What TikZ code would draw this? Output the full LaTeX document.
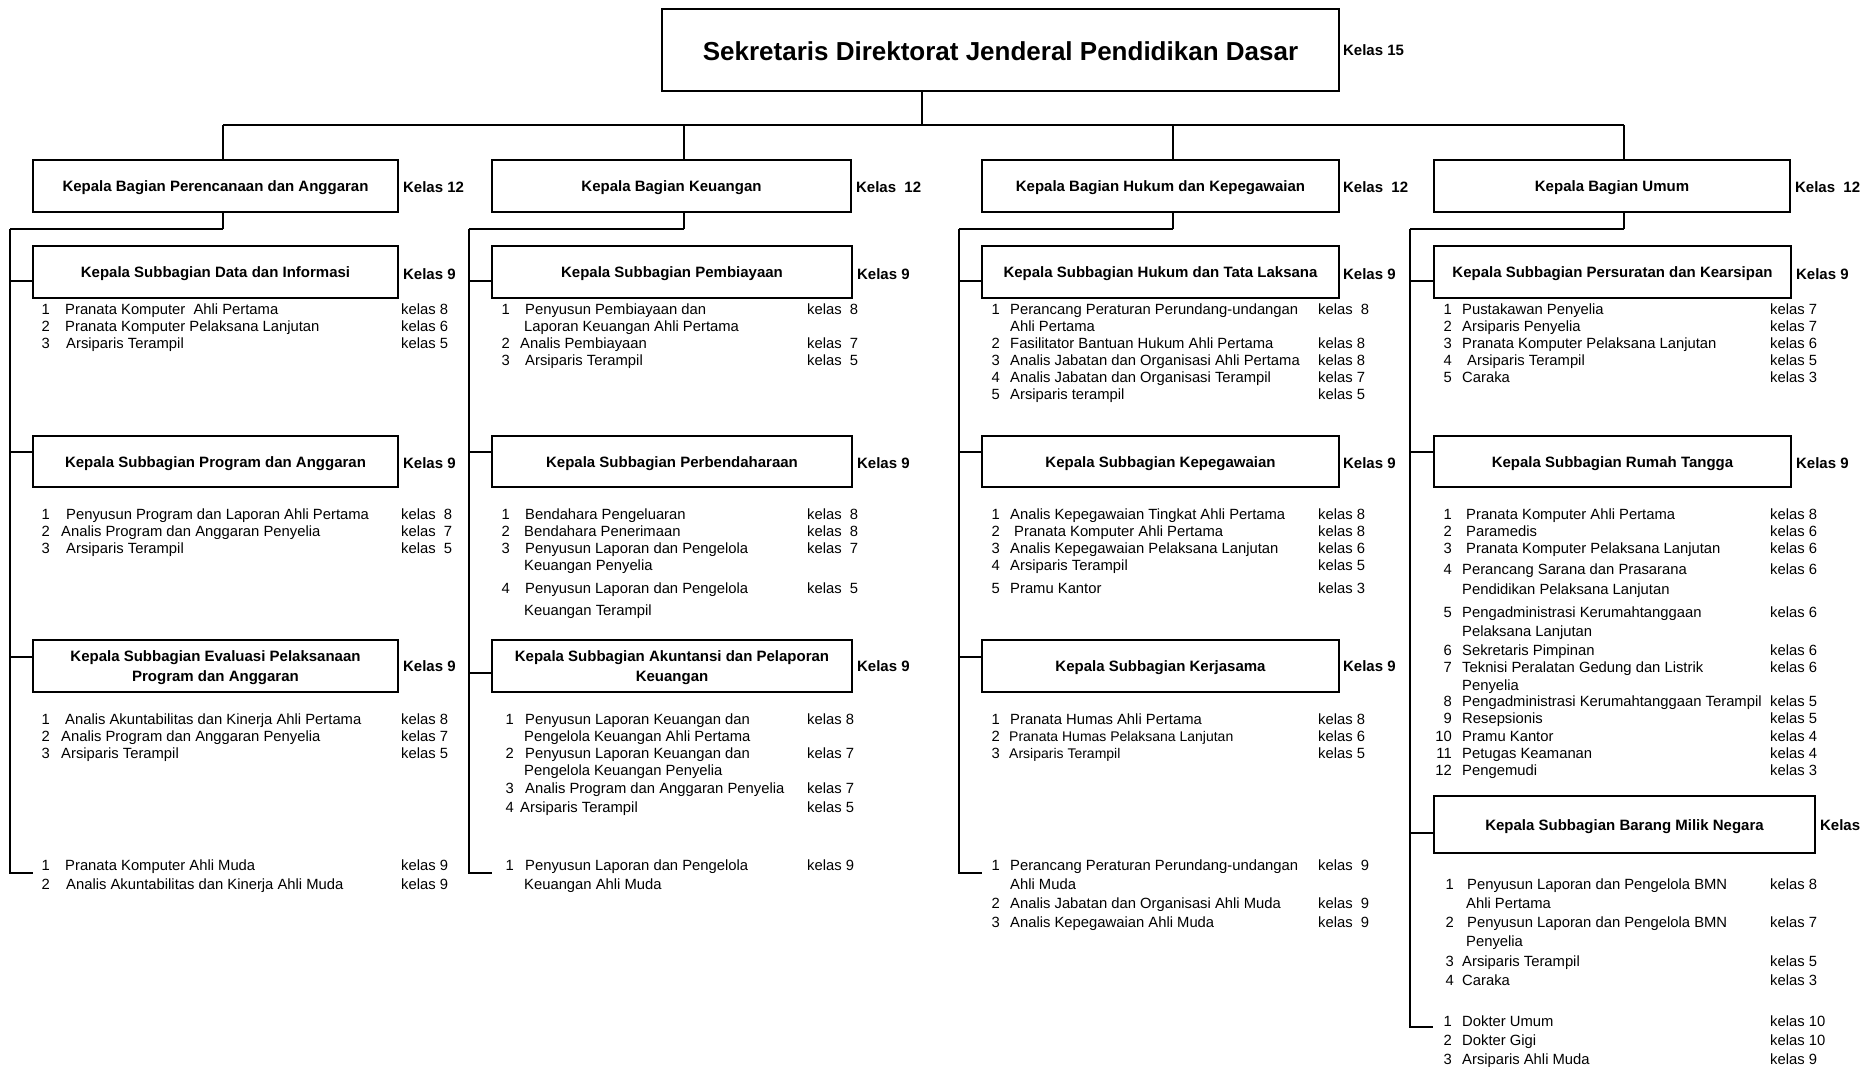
\documentclass[tikz,border=0pt]{standalone}
\usepackage{fontspec}
\setmainfont{Liberation Sans}
\newcounter{rc}
\tikzset{
  box/.style={draw, line width=1.8pt, inner sep=0pt},
  boxt/.style={inner sep=0pt, align=center, font=\fontsize{15}{20}\selectfont\bfseries},
  itm/.style={inner sep=0pt, font=\fontsize{14.8}{17}\selectfont},
  klas/.style={inner sep=0pt, anchor=west, font=\fontsize{15}{18}\selectfont\bfseries},
  conn/.style={line width=1.3pt},
  bus/.style={line width=2.4pt},
}
% box by corners, with its title as a separate node (#1t)
\newcommand\bx[6]{\node[box, minimum width={#4-#2}, minimum height={#5-#3}] (#1) at ({(#2+#4)/2},{(#3+#5)/2}) {};%
  \node[boxt] (#1t) at ([yshift=-2pt]#1.center) {#6};}
% item row: xnum(east) xtext xkelas ybase num text kelas
\newcommand\rw[7]{\stepcounter{rc}%
  \node[itm,anchor=base east] (n\therc) at (#1,#4) {#5};%
  \node[itm,anchor=base west] (t\therc) at (#2,#4) {#6};%
  \node[itm,anchor=base west] (k\therc) at (#3,#4) {#7};}
% continuation line
\newcommand\ct[3]{\stepcounter{rc}\node[itm,anchor=base west] (c\therc) at (#1,#2) {#3};}
\begin{document}
\begin{tikzpicture}[x=1pt,y=-1pt]
\useasboundingbox (0,0) rectangle (1863,1067);

% ---------- top ----------
\node[box, minimum width=677, minimum height=82] (top) at (1000.5,50) {};
\node[boxt, font=\fontsize{26}{30}\selectfont\bfseries] (topt) at ([yshift=-1pt]top.center) {Sekretaris Direktorat Jenderal Pendidikan Dasar};
\node[klas] (ktop) at ([xshift=3pt]top.east) {Kelas 15};

% ---------- level 2 ----------
\bx{b1}{33}{160}{398}{212}{Kepala Bagian Perencanaan dan Anggaran}
\bx{b2}{492}{160}{851}{212}{Kepala Bagian Keuangan}
\bx{b3}{982}{160}{1339}{212}{Kepala Bagian Hukum dan Kepegawaian}
\bx{b4}{1434}{160}{1790}{212}{Kepala Bagian Umum}
\node[klas] (kb1) at ([xshift=4pt,yshift=-1pt]b1.east) {Kelas 12};
\node[klas] (kb2) at ([xshift=4pt,yshift=-1pt]b2.east) {Kelas~~12};
\node[klas] (kb3) at ([xshift=3pt,yshift=-1pt]b3.east) {Kelas~~12};
\node[klas] (kb4) at ([xshift=4pt,yshift=-1pt]b4.east) {Kelas~~12};

% ---------- subboxes ----------
\bx{s11}{33}{246}{398}{298}{Kepala Subbagian Data dan Informasi}
\bx{s12}{33}{436}{398}{487}{Kepala Subbagian Program dan Anggaran}
\bx{s13}{33}{640}{398}{692}{Kepala Subbagian Evaluasi Pelaksanaan\\Program dan Anggaran}
\bx{s21}{492}{246}{852}{298}{Kepala Subbagian Pembiayaan}
\bx{s22}{492}{436}{852}{487}{Kepala Subbagian Perbendaharaan}
\bx{s23}{492}{640}{852}{692}{Kepala Subbagian Akuntansi dan Pelaporan\\Keuangan}
\bx{s31}{982}{246}{1339}{298}{Kepala Subbagian Hukum dan Tata Laksana}
\bx{s32}{982}{436}{1339}{487}{Kepala Subbagian Kepegawaian}
\bx{s33}{982}{640}{1339}{692}{Kepala Subbagian Kerjasama}
\bx{s41}{1434}{246}{1791}{298}{Kepala Subbagian Persuratan dan Kearsipan}
\bx{s42}{1434}{436}{1791}{487}{Kepala Subbagian Rumah Tangga}
\bx{s43}{1434}{796}{1815}{853}{Kepala Subbagian Barang Milik Negara}
\foreach \c/\d in {1/4,2/4,3/3,4/4}{
  \foreach \r in {1,2}{
    \node[klas] (ks\c\r) at ([xshift=\d pt, yshift=-2pt]s\c\r.east) {Kelas 9};
  }}
\node[klas] (ks13) at ([xshift=4pt]s13.east) {Kelas 9};
\node[klas] (ks23) at ([xshift=4pt]s23.east) {Kelas 9};
\node[klas] (ks33) at ([xshift=3pt]s33.east) {Kelas 9};
\node[klas] (ks43) at ([xshift=4pt, yshift=-1pt]s43.east) {Kelas};

% ---------- connectors ----------
\coordinate (j0) at (922,125);
\coordinate (d1) at (223,125);
\coordinate (d2) at (684,125);
\coordinate (d3) at (1173,125);
\coordinate (d4) at (1624,125);
\coordinate (e1) at (10,229);
\coordinate (e2) at (469,229);
\coordinate (e3) at (959,229);
\coordinate (e4) at (1410,229);
\coordinate (f1) at (33,873);
\coordinate (f2) at (492,873);
\coordinate (f3) at (982,873);
\coordinate (f4) at (1433,1027);

\draw[conn] (top.south -| j0) -- (j0);
\draw[bus] (d1) -- (d4);
\foreach \i in {1,2,3,4}{
  \draw[conn] (d\i) -- (d\i |- b\i.north);
  \draw[conn] (b\i.south -| d\i) -- (d\i |- e\i);
  \draw[bus] (d\i |- e\i) -- (e\i);
  \draw[conn] (e\i) |- (f\i);
}
% branch heights
\coordinate (g11) at (0,281); \coordinate (g12) at (0,452); \coordinate (g13) at (0,657);
\coordinate (g21) at (0,281); \coordinate (g22) at (0,452); \coordinate (g23) at (0,673);
\coordinate (g31) at (0,281); \coordinate (g32) at (0,452); \coordinate (g33) at (0,657);
\coordinate (g41) at (0,281); \coordinate (g42) at (0,452); \coordinate (g43) at (0,833);
\foreach \c in {1,2,3,4}{
  \foreach \r in {1,2,3}{
    \draw[conn] (e\c |- g\c\r) -- (s\c\r.west |- g\c\r);
  }}

% ---------- column 1 ----------
\rw{50}{65}{401}{314}{1}{Pranata Komputer~ Ahli Pertama}{kelas 8}
\rw{50}{65}{401}{331}{2}{Pranata Komputer Pelaksana Lanjutan}{kelas 6}
\rw{50}{66}{401}{348}{3}{Arsiparis Terampil}{kelas 5}
\rw{50}{66}{401}{519}{1}{Penyusun Program dan Laporan Ahli Pertama}{kelas~~8}
\rw{50}{61}{401}{536}{2}{Analis Program dan Anggaran Penyelia}{kelas~~7}
\rw{50}{66}{401}{553}{3}{Arsiparis Terampil}{kelas~~5}
\rw{50}{65}{401}{724}{1}{Analis Akuntabilitas dan Kinerja Ahli Pertama}{kelas 8}
\rw{50}{61}{401}{741}{2}{Analis Program dan Anggaran Penyelia}{kelas 7}
\rw{50}{61}{401}{758}{3}{Arsiparis Terampil}{kelas 5}
\rw{50}{65}{401}{870}{1}{Pranata Komputer Ahli Muda}{kelas 9}
\rw{50}{66}{401}{889}{2}{Analis Akuntabilitas dan Kinerja Ahli Muda}{kelas 9}

% ---------- column 2 ----------
\rw{510}{525}{807}{314}{1}{Penyusun Pembiayaan dan}{kelas~~8}
\ct{524}{331}{Laporan Keuangan Ahli Pertama}
\rw{510}{520}{807}{348}{2}{Analis Pembiayaan}{kelas~~7}
\rw{510}{525}{807}{365}{3}{Arsiparis Terampil}{kelas~~5}
\rw{510}{525}{807}{519}{1}{Bendahara Pengeluaran}{kelas~~8}
\rw{510}{524}{807}{536}{2}{Bendahara Penerimaan}{kelas~~8}
\rw{510}{525}{807}{553}{3}{Penyusun Laporan dan Pengelola}{kelas~~7}
\ct{524}{570}{Keuangan Penyelia}
\rw{510}{525}{807}{593}{4}{Penyusun Laporan dan Pengelola}{kelas~~5}
\ct{524}{615}{Keuangan Terampil}
\rw{514}{525}{807}{724}{1}{Penyusun Laporan Keuangan dan}{kelas 8}
\ct{524}{741}{Pengelola Keuangan Ahli Pertama}
\rw{514}{525}{807}{758}{2}{Penyusun Laporan Keuangan dan}{kelas 7}
\ct{524}{775}{Pengelola Keuangan Penyelia}
\rw{514}{525}{807}{793}{3}{Analis Program dan Anggaran Penyelia}{kelas 7}
\rw{514}{520}{807}{812}{4}{Arsiparis Terampil}{kelas 5}
\rw{514}{525}{807}{870}{1}{Penyusun Laporan dan Pengelola}{kelas 9}
\ct{524}{889}{Keuangan Ahli Muda}

% ---------- column 3 ----------
\rw{1000}{1010}{1318}{314}{1}{Perancang Peraturan Perundang-undangan}{kelas~~8}
\ct{1010}{331}{Ahli Pertama}
\rw{1000}{1010}{1318}{348}{2}{Fasilitator Bantuan Hukum Ahli Pertama}{kelas 8}
\rw{1000}{1010}{1318}{365}{3}{Analis Jabatan dan Organisasi Ahli Pertama}{kelas 8}
\rw{1000}{1010}{1318}{382}{4}{Analis Jabatan dan Organisasi Terampil}{kelas 7}
\rw{1000}{1010}{1318}{399}{5}{Arsiparis terampil}{kelas 5}
\rw{1000}{1010}{1318}{519}{1}{Analis Kepegawaian Tingkat Ahli Pertama}{kelas 8}
\rw{1000}{1014}{1318}{536}{2}{Pranata Komputer Ahli Pertama}{kelas 8}
\rw{1000}{1010}{1318}{553}{3}{Analis Kepegawaian Pelaksana Lanjutan}{kelas 6}
\rw{1000}{1010}{1318}{570}{4}{Arsiparis Terampil}{kelas 5}
\rw{1000}{1010}{1318}{593}{5}{Pramu Kantor}{kelas 3}
\rw{1000}{1010}{1318}{724}{1}{Pranata Humas Ahli Pertama}{kelas 8}
\rw{1000}{1009}{1318}{741}{2}{\fontsize{14}{17}\selectfont Pranata Humas Pelaksana Lanjutan}{kelas 6}
\rw{1000}{1009}{1318}{758}{3}{\fontsize{14}{17}\selectfont Arsiparis Terampil}{kelas 5}
\rw{1000}{1010}{1318}{870}{1}{Perancang Peraturan Perundang-undangan}{kelas~~9}
\ct{1010}{889}{Ahli Muda}
\rw{1000}{1010}{1318}{908}{2}{Analis Jabatan dan Organisasi Ahli Muda}{kelas~~9}
\rw{1000}{1010}{1318}{927}{3}{Analis Kepegawaian Ahli Muda}{kelas~~9}

% ---------- column 4 ----------
\rw{1452}{1462}{1770}{314}{1}{Pustakawan Penyelia}{kelas 7}
\rw{1452}{1462}{1770}{331}{2}{Arsiparis Penyelia}{kelas 7}
\rw{1452}{1462}{1770}{348}{3}{Pranata Komputer Pelaksana Lanjutan}{kelas 6}
\rw{1452}{1467}{1770}{365}{4}{Arsiparis Terampil}{kelas 5}
\rw{1452}{1462}{1770}{382}{5}{Caraka}{kelas 3}
\rw{1452}{1466}{1770}{519}{1}{Pranata Komputer Ahli Pertama}{kelas 8}
\rw{1452}{1466}{1770}{536}{2}{Paramedis}{kelas 6}
\rw{1452}{1466}{1770}{553}{3}{Pranata Komputer Pelaksana Lanjutan}{kelas 6}
\rw{1452}{1462}{1770}{574}{4}{Perancang Sarana dan Prasarana}{kelas 6}
\ct{1462}{594}{Pendidikan Pelaksana Lanjutan}
\rw{1452}{1462}{1770}{617}{5}{Pengadministrasi Kerumahtanggaan}{kelas 6}
\ct{1462}{636}{Pelaksana Lanjutan}
\rw{1452}{1462}{1770}{655}{6}{Sekretaris Pimpinan}{kelas 6}
\rw{1452}{1462}{1770}{672}{7}{Teknisi Peralatan Gedung dan Listrik}{kelas 6}
\ct{1462}{690}{Penyelia}
\rw{1452}{1462}{1770}{706}{8}{Pengadministrasi Kerumahtanggaan Terampil}{kelas 5}
\rw{1452}{1462}{1770}{723}{9}{Resepsionis}{kelas 5}
\rw{1452}{1462}{1770}{741}{10}{Pramu Kantor}{kelas 4}
\rw{1452}{1462}{1770}{758}{11}{Petugas Keamanan}{kelas 4}
\rw{1452}{1462}{1770}{775}{12}{Pengemudi}{kelas 3}
\rw{1454}{1467}{1770}{889}{1}{Penyusun Laporan dan Pengelola BMN}{kelas 8}
\ct{1466}{908}{Ahli Pertama}
\rw{1454}{1467}{1770}{927}{2}{Penyusun Laporan dan Pengelola BMN}{kelas 7}
\ct{1466}{946}{Penyelia}
\rw{1454}{1462}{1770}{966}{3}{Arsiparis Terampil}{kelas 5}
\rw{1454}{1462}{1770}{985}{4}{Caraka}{kelas 3}
\rw{1452}{1462}{1770}{1026}{1}{Dokter Umum}{kelas 10}
\rw{1452}{1462}{1770}{1045}{2}{Dokter Gigi}{kelas 10}
\rw{1452}{1462}{1770}{1064}{3}{Arsiparis Ahli Muda}{kelas 9}
\end{tikzpicture}
\end{document}
